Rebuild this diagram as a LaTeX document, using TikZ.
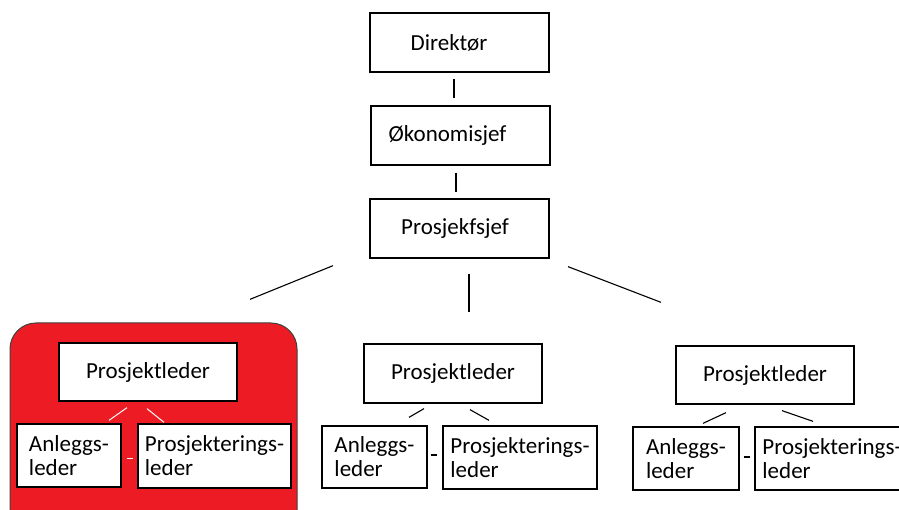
\documentclass[tikz,border=0pt]{standalone}
\usepackage{fontspec}
\setmainfont{Carlito}
\usetikzlibrary{positioning}
\definecolor{paintred}{RGB}{237,28,36}
\tikzset{>=stealth,
  box/.style={draw, line width=1.3pt, fill=white, inner sep=0pt,
    font=\fontsize{23}{24}\selectfont},
  sub/.style={box, align=left},
  link/.style={line width=1.1pt},
  whitelink/.style={line width=1pt, white}
}

\begin{document}
\begin{tikzpicture}[x=1pt,y=-1pt]
      \clip (0,0) rectangle (899,510);
      \fill[white] (0,0) rectangle (899,510);
      \draw[fill=paintred, draw=black!75, line width=1pt,
        rounded corners=26pt] (10,323) rectangle (297,540);

      \node [box,
        minimum width=179pt, minimum height=59pt
      ] (direktor) at (459.5,42.5) {Direktør\hspace*{21pt}};
      \node [box,
        minimum width=179pt, minimum height=59pt
      ] (okonomi) at (460.5,135.5) {Økonomisjef\hspace*{26pt}};
      \node [box,
        minimum width=179pt, minimum height=59pt
      ] (sjef) at (459.5,228.5) {Prosjekfsjef\hspace*{9pt}};

      \node [box,
        minimum width=178pt, minimum height=58pt
      ] (leder1) at (148,372) {Prosjektleder};
      \node [sub,
        minimum width=104pt, minimum height=63pt
      ] (anlegg1) at (69,455.5) {Anleggs-\\leder};
      \node [sub,
        minimum width=153pt, minimum height=64pt
      ] (prosj1) at (214.5,456) {Prosjekterings-\\leder};

      \node [box,
        minimum width=178pt, minimum height=59pt
      ] (leder2) at (453,373.5) {Prosjektleder};
      \node [sub,
        minimum width=105pt, minimum height=62pt
      ] (anlegg2) at (374.5,457) {Anleggs-\\leder};
      \node [sub,
        minimum width=154pt, minimum height=63pt
      ] (prosj2) at (520,457.5) {Prosjekterings-\\leder};

      \node [box,
        minimum width=178pt, minimum height=58pt
      ] (leder3) at (765,375) {Prosjektleder};
      \node [sub,
        minimum width=106pt, minimum height=63pt
      ] (anlegg3) at (686,458.5) {Anleggs-\\leder};
      \node [sub,
        minimum width=154pt, minimum height=63pt
      ] (prosj3) at (832,458.5) {Prosjekterings-\\leder};

      \draw[link] ([shift={(-5.5,6)}]direktor.south) -- ([shift={(-6.5,-7)}]okonomi.north);
      \draw[link] ([shift={(-4.5,7)}]okonomi.south) -- ([shift={(-3.5,-6)}]sjef.north);
      \draw[link] ([shift={(-126.5,7)}]sjef.south) -- ([shift={(102,-43)}]leder1.north);
      \draw[link] ([shift={(9.5,15)}]sjef.south) -- ([shift={(16,-31)}]leder2.north);
      \draw[link] ([shift={(108.5,8)}]sjef.south) -- ([shift={(-104,-43)}]leder3.north);

      \draw[whitelink] ([shift={(-21,6)}]leder1.south) -- ([shift={(40,-3)}]anlegg1.north);
      \draw[whitelink] ([shift={(-1,7)}]leder1.south) -- ([shift={(-50.5,-1)}]prosj1.north);
      \draw[whitelink] ([shift={(5,2.5)}]anlegg1.east) -- ([shift={(-4,2)}]prosj1.west);

      \draw[link] ([shift={(-29,5)}]leder2.south) -- ([shift={(34.5,-8)}]anlegg2.north);
      \draw[link] ([shift={(17,6)}]leder2.south) -- ([shift={(-31,-5)}]prosj2.north);
      \draw[link] ([shift={(3,-2)}]anlegg2.east) -- ([shift={(-5,-2.5)}]prosj2.west);

      \draw[link] ([shift={(-39,8)}]leder3.south) -- ([shift={(17,-3)}]anlegg3.north);
      \draw[link] ([shift={(17,6)}]leder3.south) -- ([shift={(-19,-5)}]prosj3.north);
      \draw[link] ([shift={(4,-1.5)}]anlegg3.east) -- ([shift={(-4,-1.5)}]prosj3.west);
    \end{tikzpicture}
\end{document}
